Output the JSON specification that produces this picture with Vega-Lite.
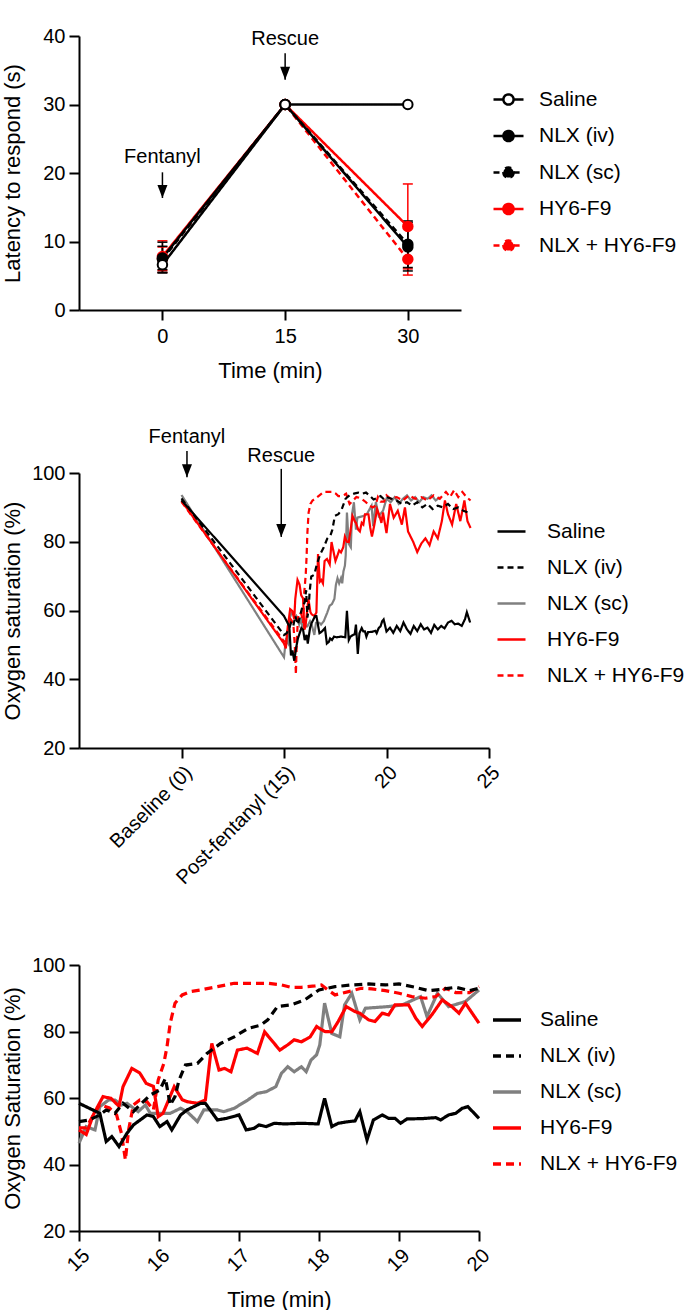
{
  "$schema": "https://vega.github.io/schema/vega-lite/v6.json",
  "padding": {"left": 0, "top": 26, "right": 0, "bottom": 0},
  "background": "white",
  "config": {
    "font": "Liberation Sans",
    "view": {"stroke": null},
    "axis": {"domainColor": "black", "domainWidth": 2, "tickColor": "black", "tickWidth": 2, "tickSize": 10, "labelFont": "Liberation Sans", "labelFontSize": 20, "labelColor": "black", "labelPadding": 4, "labelOverlap": false, "titleFont": "Liberation Sans", "titleFontSize": 22, "titleFontWeight": "normal", "titleColor": "black", "grid": false},
    "legend": {"labelFont": "Liberation Sans", "labelFontSize": 21, "labelColor": "black", "padding": 0, "orient": "none"}
  },
  "datasets": {
    "p1": [
      {"series": "NLX + HY6-F9", "t": 0, "m": 7.5, "lo": 5.8, "hi": 9.2},
      {"series": "NLX + HY6-F9", "t": 15, "m": 30, "lo": null, "hi": null},
      {"series": "NLX + HY6-F9", "t": 30, "m": 7.4, "lo": 5.1, "hi": 9.7},
      {"series": "HY6-F9", "t": 0, "m": 7.8, "lo": 5.5, "hi": 10.1},
      {"series": "HY6-F9", "t": 15, "m": 30, "lo": null, "hi": null},
      {"series": "HY6-F9", "t": 30, "m": 12.2, "lo": 6.0, "hi": 18.4},
      {"series": "NLX (sc)", "t": 0, "m": 7.4, "lo": 5.5, "hi": 9.3},
      {"series": "NLX (sc)", "t": 15, "m": 30, "lo": null, "hi": null},
      {"series": "NLX (sc)", "t": 30, "m": 9.6, "lo": 6.2, "hi": 13.0},
      {"series": "NLX (iv)", "t": 0, "m": 7.6, "lo": 5.4, "hi": 9.9},
      {"series": "NLX (iv)", "t": 15, "m": 30, "lo": null, "hi": null},
      {"series": "NLX (iv)", "t": 30, "m": 9.2, "lo": 5.7, "hi": 12.8},
      {"series": "Saline", "t": 0, "m": 6.6, "lo": 5.9, "hi": 7.3},
      {"series": "Saline", "t": 15, "m": 30, "lo": null, "hi": null},
      {"series": "Saline", "t": 30, "m": 30, "lo": null, "hi": null}
    ],
    "ann1": [
      {"label": "Fentanyl", "t": 0, "ty": 21.5, "a1": 20.1, "a2": 16.35},
      {"label": "Rescue", "t": 15, "ty": 38.7, "a1": 37.5, "a2": 33.6}
    ],
    "ann2": [
      {"label": "Fentanyl", "t": 0.8, "ty": 108.7, "a1": 106.4, "a2": 98.8},
      {"label": "Rescue", "t": 14.6, "ty": 103.2, "a1": 101.2, "a2": 81.4}
    ],
    "trace": [
      {"s": "NLX (sc)", "t": 0, "v": 93.6},
      {"s": "NLX (sc)", "t": 15.00, "v": 46.4},
      {"s": "NLX (sc)", "t": 15.09, "v": 51.4},
      {"s": "NLX (sc)", "t": 15.20, "v": 50.4},
      {"s": "NLX (sc)", "t": 15.26, "v": 57.4},
      {"s": "NLX (sc)", "t": 15.37, "v": 59.4},
      {"s": "NLX (sc)", "t": 15.45, "v": 59.4},
      {"s": "NLX (sc)", "t": 15.53, "v": 57.9},
      {"s": "NLX (sc)", "t": 15.60, "v": 58.4},
      {"s": "NLX (sc)", "t": 15.74, "v": 55.9},
      {"s": "NLX (sc)", "t": 15.83, "v": 57.9},
      {"s": "NLX (sc)", "t": 15.89, "v": 55.4},
      {"s": "NLX (sc)", "t": 15.97, "v": 55.4},
      {"s": "NLX (sc)", "t": 16.14, "v": 55.4},
      {"s": "NLX (sc)", "t": 16.27, "v": 56.9},
      {"s": "NLX (sc)", "t": 16.35, "v": 55.9},
      {"s": "NLX (sc)", "t": 16.48, "v": 52.9},
      {"s": "NLX (sc)", "t": 16.56, "v": 56.4},
      {"s": "NLX (sc)", "t": 16.73, "v": 56.4},
      {"s": "NLX (sc)", "t": 16.81, "v": 55.9},
      {"s": "NLX (sc)", "t": 16.94, "v": 56.9},
      {"s": "NLX (sc)", "t": 17.11, "v": 59.4},
      {"s": "NLX (sc)", "t": 17.23, "v": 61.4},
      {"s": "NLX (sc)", "t": 17.34, "v": 61.9},
      {"s": "NLX (sc)", "t": 17.46, "v": 63.4},
      {"s": "NLX (sc)", "t": 17.53, "v": 67.4},
      {"s": "NLX (sc)", "t": 17.61, "v": 69.4},
      {"s": "NLX (sc)", "t": 17.69, "v": 67.9},
      {"s": "NLX (sc)", "t": 17.78, "v": 69.4},
      {"s": "NLX (sc)", "t": 17.84, "v": 67.9},
      {"s": "NLX (sc)", "t": 17.90, "v": 71.4},
      {"s": "NLX (sc)", "t": 17.97, "v": 73.0},
      {"s": "NLX (sc)", "t": 18.01, "v": 76.0},
      {"s": "NLX (sc)", "t": 18.07, "v": 88.5},
      {"s": "NLX (sc)", "t": 18.16, "v": 79.4},
      {"s": "NLX (sc)", "t": 18.26, "v": 78.4},
      {"s": "NLX (sc)", "t": 18.32, "v": 88.0},
      {"s": "NLX (sc)", "t": 18.41, "v": 91.5},
      {"s": "NLX (sc)", "t": 18.51, "v": 83.5},
      {"s": "NLX (sc)", "t": 18.58, "v": 87.0},
      {"s": "NLX (sc)", "t": 18.87, "v": 87.5},
      {"s": "NLX (sc)", "t": 19.04, "v": 88.0},
      {"s": "NLX (sc)", "t": 19.27, "v": 90.5},
      {"s": "NLX (sc)", "t": 19.35, "v": 84.5},
      {"s": "NLX (sc)", "t": 19.48, "v": 91.5},
      {"s": "NLX (sc)", "t": 19.62, "v": 87.5},
      {"s": "NLX (sc)", "t": 19.83, "v": 89.0},
      {"s": "NLX (sc)", "t": 20.00, "v": 92.5},
      {"s": "NLX (sc)", "t": 20.2, "v": 91.5},
      {"s": "NLX (sc)", "t": 20.4, "v": 93.0},
      {"s": "NLX (sc)", "t": 20.6, "v": 91.0},
      {"s": "NLX (sc)", "t": 20.8, "v": 92.5},
      {"s": "NLX (sc)", "t": 21.0, "v": 93.5},
      {"s": "NLX (sc)", "t": 21.2, "v": 92.0},
      {"s": "NLX (sc)", "t": 21.4, "v": 93.0},
      {"s": "NLX (sc)", "t": 21.6, "v": 91.5},
      {"s": "NLX (sc)", "t": 21.8, "v": 93.0},
      {"s": "NLX (sc)", "t": 22.0, "v": 92.5},
      {"s": "NLX (sc)", "t": 22.2, "v": 93.5},
      {"s": "NLX (sc)", "t": 22.4, "v": 92.0},
      {"s": "NLX (sc)", "t": 22.6, "v": 93.0},

      {"s": "HY6-F9", "t": 0, "v": 91.9},
      {"s": "HY6-F9", "t": 15.00, "v": 50.4},
      {"s": "HY6-F9", "t": 15.09, "v": 49.0},
      {"s": "HY6-F9", "t": 15.18, "v": 55.0},
      {"s": "HY6-F9", "t": 15.30, "v": 60.4},
      {"s": "HY6-F9", "t": 15.40, "v": 59.9},
      {"s": "HY6-F9", "t": 15.50, "v": 57.5},
      {"s": "HY6-F9", "t": 15.55, "v": 63.4},
      {"s": "HY6-F9", "t": 15.66, "v": 68.9},
      {"s": "HY6-F9", "t": 15.76, "v": 67.5},
      {"s": "HY6-F9", "t": 15.84, "v": 64.4},
      {"s": "HY6-F9", "t": 15.93, "v": 63.5},
      {"s": "HY6-F9", "t": 15.99, "v": 54.4},
      {"s": "HY6-F9", "t": 16.05, "v": 55.4},
      {"s": "HY6-F9", "t": 16.19, "v": 63.4},
      {"s": "HY6-F9", "t": 16.29, "v": 59.5},
      {"s": "HY6-F9", "t": 16.35, "v": 58.9},
      {"s": "HY6-F9", "t": 16.48, "v": 58.4},
      {"s": "HY6-F9", "t": 16.58, "v": 59.4},
      {"s": "HY6-F9", "t": 16.66, "v": 76.4},
      {"s": "HY6-F9", "t": 16.75, "v": 68.4},
      {"s": "HY6-F9", "t": 16.82, "v": 68.9},
      {"s": "HY6-F9", "t": 16.90, "v": 67.9},
      {"s": "HY6-F9", "t": 16.98, "v": 74.4},
      {"s": "HY6-F9", "t": 17.10, "v": 75.0},
      {"s": "HY6-F9", "t": 17.23, "v": 73.4},
      {"s": "HY6-F9", "t": 17.32, "v": 79.9},
      {"s": "HY6-F9", "t": 17.42, "v": 77.0},
      {"s": "HY6-F9", "t": 17.51, "v": 74.4},
      {"s": "HY6-F9", "t": 17.61, "v": 76.0},
      {"s": "HY6-F9", "t": 17.69, "v": 77.5},
      {"s": "HY6-F9", "t": 17.78, "v": 76.9},
      {"s": "HY6-F9", "t": 17.89, "v": 78.4},
      {"s": "HY6-F9", "t": 17.97, "v": 81.5},
      {"s": "HY6-F9", "t": 18.07, "v": 80.0},
      {"s": "HY6-F9", "t": 18.16, "v": 79.9},
      {"s": "HY6-F9", "t": 18.24, "v": 83.0},
      {"s": "HY6-F9", "t": 18.34, "v": 87.5},
      {"s": "HY6-F9", "t": 18.45, "v": 86.0},
      {"s": "HY6-F9", "t": 18.51, "v": 85.5},
      {"s": "HY6-F9", "t": 18.62, "v": 83.5},
      {"s": "HY6-F9", "t": 18.70, "v": 83.0},
      {"s": "HY6-F9", "t": 18.79, "v": 85.5},
      {"s": "HY6-F9", "t": 18.87, "v": 85.0},
      {"s": "HY6-F9", "t": 18.95, "v": 88.0},
      {"s": "HY6-F9", "t": 19.12, "v": 88.0},
      {"s": "HY6-F9", "t": 19.21, "v": 84.0},
      {"s": "HY6-F9", "t": 19.29, "v": 81.5},
      {"s": "HY6-F9", "t": 19.41, "v": 85.0},
      {"s": "HY6-F9", "t": 19.54, "v": 89.5},
      {"s": "HY6-F9", "t": 19.66, "v": 87.5},
      {"s": "HY6-F9", "t": 19.75, "v": 85.5},
      {"s": "HY6-F9", "t": 19.83, "v": 88.5},
      {"s": "HY6-F9", "t": 20.00, "v": 82.5},
      {"s": "HY6-F9", "t": 20.17, "v": 91.0},
      {"s": "HY6-F9", "t": 20.35, "v": 87.0},
      {"s": "HY6-F9", "t": 20.55, "v": 89.0},
      {"s": "HY6-F9", "t": 20.75, "v": 85.0},
      {"s": "HY6-F9", "t": 20.9, "v": 90.0},
      {"s": "HY6-F9", "t": 21.05, "v": 83.0},
      {"s": "HY6-F9", "t": 21.3, "v": 80.0},
      {"s": "HY6-F9", "t": 21.5, "v": 77.0},
      {"s": "HY6-F9", "t": 21.7, "v": 79.5},
      {"s": "HY6-F9", "t": 21.9, "v": 81.0},
      {"s": "HY6-F9", "t": 22.1, "v": 79.0},
      {"s": "HY6-F9", "t": 22.3, "v": 83.0},
      {"s": "HY6-F9", "t": 22.5, "v": 81.0},
      {"s": "HY6-F9", "t": 22.7, "v": 86.0},
      {"s": "HY6-F9", "t": 22.85, "v": 92.0},
      {"s": "HY6-F9", "t": 23.0, "v": 88.0},
      {"s": "HY6-F9", "t": 23.2, "v": 85.0},
      {"s": "HY6-F9", "t": 23.4, "v": 91.0},
      {"s": "HY6-F9", "t": 23.6, "v": 86.0},
      {"s": "HY6-F9", "t": 23.8, "v": 92.0},
      {"s": "HY6-F9", "t": 23.95, "v": 86.0},
      {"s": "HY6-F9", "t": 24.1, "v": 84.0},

      {"s": "NLX + HY6-F9", "t": 0, "v": 91.6},
      {"s": "NLX + HY6-F9", "t": 15.00, "v": 51.0},
      {"s": "NLX + HY6-F9", "t": 15.09, "v": 51.0},
      {"s": "NLX + HY6-F9", "t": 15.18, "v": 54.9},
      {"s": "NLX + HY6-F9", "t": 15.26, "v": 58.0},
      {"s": "NLX + HY6-F9", "t": 15.38, "v": 57.0},
      {"s": "NLX + HY6-F9", "t": 15.47, "v": 54.9},
      {"s": "NLX + HY6-F9", "t": 15.53, "v": 49.4},
      {"s": "NLX + HY6-F9", "t": 15.58, "v": 41.4},
      {"s": "NLX + HY6-F9", "t": 15.62, "v": 50.4},
      {"s": "NLX + HY6-F9", "t": 15.68, "v": 57.9},
      {"s": "NLX + HY6-F9", "t": 15.76, "v": 59.4},
      {"s": "NLX + HY6-F9", "t": 15.85, "v": 58.9},
      {"s": "NLX + HY6-F9", "t": 15.93, "v": 56.4},
      {"s": "NLX + HY6-F9", "t": 15.99, "v": 65.4},
      {"s": "NLX + HY6-F9", "t": 16.06, "v": 70.4},
      {"s": "NLX + HY6-F9", "t": 16.10, "v": 75.4},
      {"s": "NLX + HY6-F9", "t": 16.14, "v": 82.5},
      {"s": "NLX + HY6-F9", "t": 16.20, "v": 88.5},
      {"s": "NLX + HY6-F9", "t": 16.29, "v": 91.0},
      {"s": "NLX + HY6-F9", "t": 16.39, "v": 92.0},
      {"s": "NLX + HY6-F9", "t": 16.52, "v": 92.5},
      {"s": "NLX + HY6-F9", "t": 16.73, "v": 93.5},
      {"s": "NLX + HY6-F9", "t": 16.94, "v": 94.5},
      {"s": "NLX + HY6-F9", "t": 17.15, "v": 94.5},
      {"s": "NLX + HY6-F9", "t": 17.36, "v": 94.5},
      {"s": "NLX + HY6-F9", "t": 17.53, "v": 94.0},
      {"s": "NLX + HY6-F9", "t": 17.65, "v": 93.3},
      {"s": "NLX + HY6-F9", "t": 17.78, "v": 93.3},
      {"s": "NLX + HY6-F9", "t": 17.95, "v": 93.7},
      {"s": "NLX + HY6-F9", "t": 18.03, "v": 94.0},
      {"s": "NLX + HY6-F9", "t": 18.11, "v": 92.5},
      {"s": "NLX + HY6-F9", "t": 18.20, "v": 91.0},
      {"s": "NLX + HY6-F9", "t": 18.37, "v": 92.0},
      {"s": "NLX + HY6-F9", "t": 18.53, "v": 93.0},
      {"s": "NLX + HY6-F9", "t": 18.66, "v": 92.8},
      {"s": "NLX + HY6-F9", "t": 18.83, "v": 92.3},
      {"s": "NLX + HY6-F9", "t": 19.00, "v": 91.5},
      {"s": "NLX + HY6-F9", "t": 19.16, "v": 90.5},
      {"s": "NLX + HY6-F9", "t": 19.33, "v": 90.0},
      {"s": "NLX + HY6-F9", "t": 19.46, "v": 90.5},
      {"s": "NLX + HY6-F9", "t": 19.58, "v": 93.0},
      {"s": "NLX + HY6-F9", "t": 19.71, "v": 91.7},
      {"s": "NLX + HY6-F9", "t": 19.88, "v": 91.7},
      {"s": "NLX + HY6-F9", "t": 20.00, "v": 93.5},
      {"s": "NLX + HY6-F9", "t": 20.2, "v": 92.5},
      {"s": "NLX + HY6-F9", "t": 20.5, "v": 93.0},
      {"s": "NLX + HY6-F9", "t": 20.8, "v": 92.0},
      {"s": "NLX + HY6-F9", "t": 21.1, "v": 93.5},
      {"s": "NLX + HY6-F9", "t": 21.4, "v": 92.5},
      {"s": "NLX + HY6-F9", "t": 21.7, "v": 93.0},
      {"s": "NLX + HY6-F9", "t": 22.0, "v": 92.0},
      {"s": "NLX + HY6-F9", "t": 22.3, "v": 93.5},
      {"s": "NLX + HY6-F9", "t": 22.6, "v": 92.5},
      {"s": "NLX + HY6-F9", "t": 22.9, "v": 94.5},
      {"s": "NLX + HY6-F9", "t": 23.1, "v": 93.0},
      {"s": "NLX + HY6-F9", "t": 23.3, "v": 95.0},
      {"s": "NLX + HY6-F9", "t": 23.5, "v": 93.0},
      {"s": "NLX + HY6-F9", "t": 23.7, "v": 94.5},
      {"s": "NLX + HY6-F9", "t": 23.9, "v": 93.0},
      {"s": "NLX + HY6-F9", "t": 24.1, "v": 92.0},

      {"s": "NLX (iv)", "t": 0, "v": 92.6},
      {"s": "NLX (iv)", "t": 15.00, "v": 52.9},
      {"s": "NLX (iv)", "t": 15.13, "v": 53.4},
      {"s": "NLX (iv)", "t": 15.26, "v": 54.9},
      {"s": "NLX (iv)", "t": 15.34, "v": 56.4},
      {"s": "NLX (iv)", "t": 15.45, "v": 55.4},
      {"s": "NLX (iv)", "t": 15.55, "v": 58.4},
      {"s": "NLX (iv)", "t": 15.68, "v": 55.9},
      {"s": "NLX (iv)", "t": 15.76, "v": 57.9},
      {"s": "NLX (iv)", "t": 15.89, "v": 60.9},
      {"s": "NLX (iv)", "t": 16.01, "v": 62.4},
      {"s": "NLX (iv)", "t": 16.08, "v": 65.9},
      {"s": "NLX (iv)", "t": 16.14, "v": 57.9},
      {"s": "NLX (iv)", "t": 16.20, "v": 60.4},
      {"s": "NLX (iv)", "t": 16.25, "v": 65.4},
      {"s": "NLX (iv)", "t": 16.33, "v": 69.9},
      {"s": "NLX (iv)", "t": 16.48, "v": 70.4},
      {"s": "NLX (iv)", "t": 16.60, "v": 73.4},
      {"s": "NLX (iv)", "t": 16.77, "v": 76.4},
      {"s": "NLX (iv)", "t": 16.94, "v": 78.4},
      {"s": "NLX (iv)", "t": 17.11, "v": 80.9},
      {"s": "NLX (iv)", "t": 17.27, "v": 81.9},
      {"s": "NLX (iv)", "t": 17.36, "v": 83.5},
      {"s": "NLX (iv)", "t": 17.48, "v": 87.5},
      {"s": "NLX (iv)", "t": 17.65, "v": 88.0},
      {"s": "NLX (iv)", "t": 17.82, "v": 89.5},
      {"s": "NLX (iv)", "t": 18.00, "v": 92.5},
      {"s": "NLX (iv)", "t": 18.20, "v": 93.5},
      {"s": "NLX (iv)", "t": 18.41, "v": 94.0},
      {"s": "NLX (iv)", "t": 18.62, "v": 94.3},
      {"s": "NLX (iv)", "t": 18.83, "v": 94.0},
      {"s": "NLX (iv)", "t": 19.00, "v": 94.3},
      {"s": "NLX (iv)", "t": 19.20, "v": 93.3},
      {"s": "NLX (iv)", "t": 19.37, "v": 92.3},
      {"s": "NLX (iv)", "t": 19.54, "v": 92.7},
      {"s": "NLX (iv)", "t": 19.71, "v": 93.3},
      {"s": "NLX (iv)", "t": 19.88, "v": 92.3},
      {"s": "NLX (iv)", "t": 20.00, "v": 93.0},
      {"s": "NLX (iv)", "t": 20.25, "v": 92.5},
      {"s": "NLX (iv)", "t": 20.5, "v": 92.0},
      {"s": "NLX (iv)", "t": 20.75, "v": 91.0},
      {"s": "NLX (iv)", "t": 21.0, "v": 91.5},
      {"s": "NLX (iv)", "t": 21.25, "v": 90.5},
      {"s": "NLX (iv)", "t": 21.5, "v": 91.5},
      {"s": "NLX (iv)", "t": 21.75, "v": 90.0},
      {"s": "NLX (iv)", "t": 22.0, "v": 91.0},
      {"s": "NLX (iv)", "t": 22.25, "v": 89.5},
      {"s": "NLX (iv)", "t": 22.5, "v": 90.5},
      {"s": "NLX (iv)", "t": 22.75, "v": 90.0},
      {"s": "NLX (iv)", "t": 23.0, "v": 91.0},
      {"s": "NLX (iv)", "t": 23.25, "v": 89.5},
      {"s": "NLX (iv)", "t": 23.5, "v": 90.0},
      {"s": "NLX (iv)", "t": 23.75, "v": 89.0},
      {"s": "NLX (iv)", "t": 24.0, "v": 88.5},

      {"s": "Saline", "t": 0, "v": 92.1},
      {"s": "Saline", "t": 15.00, "v": 58.4},
      {"s": "Saline", "t": 15.13, "v": 56.9},
      {"s": "Saline", "t": 15.26, "v": 55.4},
      {"s": "Saline", "t": 15.34, "v": 46.9},
      {"s": "Saline", "t": 15.41, "v": 48.4},
      {"s": "Saline", "t": 15.50, "v": 45.4},
      {"s": "Saline", "t": 15.60, "v": 49.4},
      {"s": "Saline", "t": 15.68, "v": 51.9},
      {"s": "Saline", "t": 15.85, "v": 54.9},
      {"s": "Saline", "t": 15.93, "v": 54.4},
      {"s": "Saline", "t": 16.01, "v": 51.4},
      {"s": "Saline", "t": 16.10, "v": 52.9},
      {"s": "Saline", "t": 16.16, "v": 50.4},
      {"s": "Saline", "t": 16.27, "v": 54.9},
      {"s": "Saline", "t": 16.35, "v": 56.4},
      {"s": "Saline", "t": 16.52, "v": 58.4},
      {"s": "Saline", "t": 16.58, "v": 58.4},
      {"s": "Saline", "t": 16.73, "v": 53.4},
      {"s": "Saline", "t": 16.85, "v": 53.9},
      {"s": "Saline", "t": 17.00, "v": 54.9},
      {"s": "Saline", "t": 17.09, "v": 50.4},
      {"s": "Saline", "t": 17.19, "v": 50.9},
      {"s": "Saline", "t": 17.25, "v": 51.9},
      {"s": "Saline", "t": 17.34, "v": 51.4},
      {"s": "Saline", "t": 17.44, "v": 52.4},
      {"s": "Saline", "t": 17.57, "v": 52.2},
      {"s": "Saline", "t": 17.78, "v": 52.4},
      {"s": "Saline", "t": 17.99, "v": 52.2},
      {"s": "Saline", "t": 18.07, "v": 59.9},
      {"s": "Saline", "t": 18.16, "v": 51.4},
      {"s": "Saline", "t": 18.24, "v": 52.4},
      {"s": "Saline", "t": 18.37, "v": 52.9},
      {"s": "Saline", "t": 18.45, "v": 53.1},
      {"s": "Saline", "t": 18.51, "v": 55.9},
      {"s": "Saline", "t": 18.60, "v": 47.4},
      {"s": "Saline", "t": 18.68, "v": 53.4},
      {"s": "Saline", "t": 18.79, "v": 54.9},
      {"s": "Saline", "t": 18.87, "v": 53.9},
      {"s": "Saline", "t": 18.95, "v": 53.9},
      {"s": "Saline", "t": 19.02, "v": 52.4},
      {"s": "Saline", "t": 19.10, "v": 53.7},
      {"s": "Saline", "t": 19.29, "v": 53.8},
      {"s": "Saline", "t": 19.46, "v": 54.1},
      {"s": "Saline", "t": 19.52, "v": 53.4},
      {"s": "Saline", "t": 19.62, "v": 54.9},
      {"s": "Saline", "t": 19.71, "v": 55.4},
      {"s": "Saline", "t": 19.79, "v": 56.9},
      {"s": "Saline", "t": 19.86, "v": 57.4},
      {"s": "Saline", "t": 20.00, "v": 53.9},
      {"s": "Saline", "t": 20.17, "v": 55.0},
      {"s": "Saline", "t": 20.33, "v": 53.5},
      {"s": "Saline", "t": 20.5, "v": 55.5},
      {"s": "Saline", "t": 20.67, "v": 54.0},
      {"s": "Saline", "t": 20.83, "v": 56.5},
      {"s": "Saline", "t": 21.0, "v": 54.5},
      {"s": "Saline", "t": 21.17, "v": 53.2},
      {"s": "Saline", "t": 21.33, "v": 55.5},
      {"s": "Saline", "t": 21.5, "v": 54.0},
      {"s": "Saline", "t": 21.67, "v": 56.0},
      {"s": "Saline", "t": 21.83, "v": 54.5},
      {"s": "Saline", "t": 22.0, "v": 55.0},
      {"s": "Saline", "t": 22.17, "v": 53.5},
      {"s": "Saline", "t": 22.33, "v": 55.8},
      {"s": "Saline", "t": 22.5, "v": 54.5},
      {"s": "Saline", "t": 22.67, "v": 55.5},
      {"s": "Saline", "t": 22.83, "v": 54.8},
      {"s": "Saline", "t": 23.0, "v": 56.5},
      {"s": "Saline", "t": 23.17, "v": 57.0},
      {"s": "Saline", "t": 23.33, "v": 56.0},
      {"s": "Saline", "t": 23.5, "v": 56.2},
      {"s": "Saline", "t": 23.67, "v": 55.5},
      {"s": "Saline", "t": 23.83, "v": 57.5},
      {"s": "Saline", "t": 23.92, "v": 59.5},
      {"s": "Saline", "t": 24.0, "v": 58.0},
      {"s": "Saline", "t": 24.08, "v": 56.5}
    ]
  },
  "vconcat": [
    {
      "spacing": 46,
      "resolve": {"scale": {"x": "independent", "y": "independent", "stroke": "independent", "strokeDash": "independent", "fill": "independent"}, "legend": {"stroke": "independent", "strokeDash": "independent", "fill": "independent"}},
      "vconcat": [
        {
          "width": 382,
          "height": 274,
          "layer": [
            {
              "data": {"name": "p1"},
              "mark": {"type": "rule", "strokeWidth": 1.5},
              "encoding": {
                "x": {"field": "t", "type": "quantitative", "scale": {"domain": [-10.2, 36.5], "nice": false, "zero": false}, "axis": {"values": [0, 15, 30], "title": "Time (min)", "titleY": 67, "titleBaseline": "alphabetic", "labelPadding": 6, "labelAngle": 0}},
                "y": {"field": "lo", "type": "quantitative", "scale": {"domain": [0, 40], "nice": false}, "axis": {"values": [0, 10, 20, 30, 40], "title": "Latency to respond (s)", "titleX": -60, "titleBaseline": "alphabetic"}},
                "y2": {"field": "hi"},
                "color": {"condition": {"test": "indexof(datum.series, 'HY6') >= 0", "value": "#ff0000"}, "value": "#000000"}
              }
            },
            {
              "data": {"name": "p1"},
              "mark": {"type": "tick", "orient": "horizontal", "size": 10, "thickness": 1.5, "opacity": 1},
              "encoding": {
                "x": {"field": "t", "type": "quantitative"},
                "y": {"field": "lo", "type": "quantitative", "title": "Latency to respond (s)"},
                "color": {"condition": {"test": "indexof(datum.series, 'HY6') >= 0", "value": "#ff0000"}, "value": "#000000"}
              }
            },
            {
              "data": {"name": "p1"},
              "mark": {"type": "tick", "orient": "horizontal", "size": 10, "thickness": 1.5, "opacity": 1},
              "encoding": {
                "x": {"field": "t", "type": "quantitative"},
                "y": {"field": "hi", "type": "quantitative", "title": "Latency to respond (s)"},
                "color": {"condition": {"test": "indexof(datum.series, 'HY6') >= 0", "value": "#ff0000"}, "value": "#000000"}
              }
            },
            {
              "data": {"name": "p1"},
              "mark": {"type": "line", "strokeWidth": 2.5},
              "encoding": {
                "x": {"field": "t", "type": "quantitative"},
                "y": {"field": "m", "type": "quantitative", "title": "Latency to respond (s)"},
                "stroke": {"field": "series", "type": "nominal", "scale": {"domain": ["Saline", "NLX (iv)", "NLX (sc)", "HY6-F9", "NLX + HY6-F9"], "range": ["#000000", "#000000", "#000000", "#ff0000", "#ff0000"]}, "legend": {"title": null, "orient": "none", "legendX": 413, "legendY": 47, "symbolType": "M-1,0L-0.34,0M0.34,0L1,0M0.34,0A0.34,0.34,0,1,1,-0.34,0A0.34,0.34,0,1,1,0.34,0Z", "symbolSize": 900, "symbolStrokeWidth": 2.5, "labelOffset": 14, "rowPadding": 9.5, "labelFontSize": 21}},
                "strokeDash": {"field": "series", "type": "nominal", "scale": {"domain": ["Saline", "NLX (iv)", "NLX (sc)", "HY6-F9", "NLX + HY6-F9"], "range": [[1, 0], [1, 0], [6, 4], [1, 0], [6, 4]]}, "legend": {"title": null, "orient": "none", "legendX": 413, "legendY": 47, "symbolType": "M-1,0L-0.34,0M0.34,0L1,0M0.34,0A0.34,0.34,0,1,1,-0.34,0A0.34,0.34,0,1,1,0.34,0Z", "symbolSize": 900, "symbolStrokeWidth": 2.5, "labelOffset": 14, "rowPadding": 9.5, "labelFontSize": 21}}
              }
            },
            {
              "data": {"name": "p1"},
              "mark": {"type": "point", "filled": true, "size": 90, "strokeWidth": 2, "opacity": 1},
              "encoding": {
                "x": {"field": "t", "type": "quantitative"},
                "y": {"field": "m", "type": "quantitative", "title": "Latency to respond (s)"},
                "fill": {"field": "series", "type": "nominal", "scale": {"domain": ["Saline", "NLX (iv)", "NLX (sc)", "HY6-F9", "NLX + HY6-F9"], "range": ["#ffffff", "#000000", "#000000", "#ff0000", "#ff0000"]}, "legend": {"title": null, "orient": "none", "legendX": 413, "legendY": 47, "symbolType": "M-1,0L-0.34,0M0.34,0L1,0M0.34,0A0.34,0.34,0,1,1,-0.34,0A0.34,0.34,0,1,1,0.34,0Z", "symbolSize": 900, "symbolStrokeWidth": 2.5, "labelOffset": 14, "rowPadding": 9.5, "labelFontSize": 21}},
                "stroke": {"field": "series", "type": "nominal", "legend": {"title": null, "orient": "none", "legendX": 413, "legendY": 47, "symbolType": "M-1,0L-0.34,0M0.34,0L1,0M0.34,0A0.34,0.34,0,1,1,-0.34,0A0.34,0.34,0,1,1,0.34,0Z", "symbolSize": 900, "symbolStrokeWidth": 2.5, "labelOffset": 14, "rowPadding": 9.5, "labelFontSize": 21}}
              }
            },
            {
              "data": {"name": "ann1"},
              "mark": {"type": "text", "fontSize": 20, "baseline": "alphabetic", "align": "center", "color": "black"},
              "encoding": {
                "x": {"field": "t", "type": "quantitative"},
                "y": {"field": "ty", "type": "quantitative", "title": "Latency to respond (s)"},
                "text": {"field": "label"}
              }
            },
            {
              "data": {"name": "ann1"},
              "mark": {"type": "rule", "strokeWidth": 1.5, "color": "black"},
              "encoding": {
                "x": {"field": "t", "type": "quantitative"},
                "y": {"field": "a1", "type": "quantitative", "title": "Latency to respond (s)"},
                "y2": {"field": "a2"}
              }
            },
            {
              "data": {"name": "ann1"},
              "mark": {"type": "point", "shape": "M0,0L-0.77,-2L0.77,-2Z", "size": 169, "filled": true, "color": "black", "opacity": 1, "strokeWidth": 0},
              "encoding": {
                "x": {"field": "t", "type": "quantitative"},
                "y": {"field": "a2", "type": "quantitative", "title": "Latency to respond (s)"}
              }
            }
          ]
        },
        {
          "width": 410,
          "height": 275,
          "layer": [
            {
              "data": {"name": "trace"},
              "mark": {"type": "line", "strokeWidth": 2.2},
              "encoding": {
                "x": {"field": "t", "type": "quantitative", "scale": {"domain": [-5, 0, 15, 25], "range": [0, 102.5, 205, 410], "nice": false, "zero": false}, "axis": {"values": [0, 15, 20, 25], "labelAngle": -45, "title": null, "labelOverlap": false, "labelExpr": "datum.value == 0 ? 'Baseline (0)' : datum.value == 15 ? 'Post-fentanyl (15)' : datum.label"}},
                "y": {"field": "v", "type": "quantitative", "scale": {"domain": [20, 100], "nice": false, "zero": false}, "axis": {"values": [20, 40, 60, 80, 100], "title": "Oxygen saturation (%)", "titleX": -60, "titleBaseline": "alphabetic"}},
                "stroke": {"field": "s", "type": "nominal", "scale": {"domain": ["Saline", "NLX (iv)", "NLX (sc)", "HY6-F9", "NLX + HY6-F9"], "range": ["#000000", "#000000", "#808080", "#ff0000", "#ff0000"]}, "legend": {"title": null, "orient": "none", "legendX": 417, "legendY": 43, "symbolType": "stroke", "symbolSize": 784, "symbolStrokeWidth": 2.5, "labelOffset": 20, "rowPadding": 10, "labelFontSize": 21}},
                "strokeDash": {"field": "s", "type": "nominal", "scale": {"domain": ["Saline", "NLX (iv)", "NLX (sc)", "HY6-F9", "NLX + HY6-F9"], "range": [[1, 0], [6, 4], [1, 0], [1, 0], [6, 4]]}, "legend": {"title": null, "orient": "none", "legendX": 417, "legendY": 43, "symbolType": "stroke", "symbolSize": 784, "symbolStrokeWidth": 2.5, "labelOffset": 20, "rowPadding": 10, "labelFontSize": 21}}
              }
            },
            {
              "data": {"name": "ann2"},
              "mark": {"type": "text", "fontSize": 20, "baseline": "alphabetic", "align": "center", "color": "black"},
              "encoding": {
                "x": {"field": "t", "type": "quantitative"},
                "y": {"field": "ty", "type": "quantitative", "title": "Oxygen saturation (%)"},
                "text": {"field": "label"}
              }
            },
            {
              "data": {"name": "ann2"},
              "mark": {"type": "rule", "strokeWidth": 1.5, "color": "black"},
              "encoding": {
                "x": {"field": "t", "type": "quantitative"},
                "y": {"field": "a1", "type": "quantitative", "title": "Oxygen saturation (%)"},
                "y2": {"field": "a2"}
              }
            },
            {
              "data": {"name": "ann2"},
              "mark": {"type": "point", "shape": "M0,0L-0.77,-2L0.77,-2Z", "size": 169, "filled": true, "color": "black", "opacity": 1, "strokeWidth": 0},
              "encoding": {
                "x": {"field": "t", "type": "quantitative"},
                "y": {"field": "a2", "type": "quantitative", "title": "Oxygen saturation (%)"}
              }
            }
          ]
        }
      ]
    },
    {
      "width": 400,
      "height": 266,
      "data": {"name": "trace"},
      "transform": [{"filter": "datum.t >= 15 && datum.t <= 20"}],
      "mark": {"type": "line", "strokeWidth": 3.2},
      "encoding": {
        "x": {"field": "t", "type": "quantitative", "scale": {"domain": [15, 20], "nice": false, "zero": false}, "axis": {"values": [15, 16, 17, 18, 19, 20], "labelAngle": -45, "title": "Time (min)", "titleY": 75, "titleBaseline": "alphabetic"}},
        "y": {"field": "v", "type": "quantitative", "scale": {"domain": [20, 100], "nice": false, "zero": false}, "axis": {"values": [20, 40, 60, 80, 100], "title": "Oxygen Saturation (%)", "titleX": -60, "titleBaseline": "alphabetic"}},
        "stroke": {"field": "s", "type": "nominal", "scale": {"domain": ["Saline", "NLX (iv)", "NLX (sc)", "HY6-F9", "NLX + HY6-F9"], "range": ["#000000", "#000000", "#808080", "#ff0000", "#ff0000"]}, "legend": {"title": null, "orient": "none", "legendX": 412, "legendY": 39, "symbolType": "stroke", "symbolSize": 784, "symbolStrokeWidth": 3.5, "labelOffset": 17, "rowPadding": 10, "labelFontSize": 21}},
        "strokeDash": {"field": "s", "type": "nominal", "scale": {"domain": ["Saline", "NLX (iv)", "NLX (sc)", "HY6-F9", "NLX + HY6-F9"], "range": [[1, 0], [8, 5], [1, 0], [1, 0], [8, 5]]}, "legend": {"title": null, "orient": "none", "legendX": 412, "legendY": 39, "symbolType": "stroke", "symbolSize": 784, "symbolStrokeWidth": 3.5, "labelOffset": 17, "rowPadding": 10, "labelFontSize": 21}}
      }
    }
  ],
  "spacing": 67,
  "resolve": {"scale": {"x": "independent", "y": "independent", "stroke": "independent", "strokeDash": "independent", "fill": "independent"}, "legend": {"stroke": "independent", "strokeDash": "independent", "fill": "independent"}}
}
